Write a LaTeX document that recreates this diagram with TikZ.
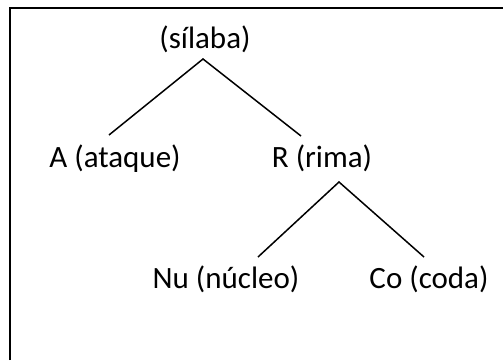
\documentclass[tikz,border=0pt]{standalone}
\usepackage{fontspec}
\setmainfont{Carlito}
\begin{document}
\begin{tikzpicture}[x=1pt,y=-1pt,
  lab/.style={font=\fontsize{31}{37}\selectfont, inner sep=0pt, anchor=base},
  edge/.style={line width=1.5pt},
  frame/.style={line width=2.2pt}]
\useasboundingbox (0,0) rectangle (503,360);
\draw[frame] (10,360) -- (10,8) -- (503,8);
\node[lab] (s) at (205,48) {(sílaba)};
\node[lab] (a) at (115,167) {A (ataque)};
\node[lab] (r) at (322,167) {R (rima)};
\node[lab] (n) at (226,288) {Nu (núcleo)};
\node[lab] (c) at (429,288) {Co (coda)};
\draw[edge] ([shift={(-6pt,32pt)}]a.base) -- ([shift={(-2pt,-11pt)}]s.base) -- ([shift={(-21pt,31pt)}]r.base);
\draw[edge] ([shift={(32pt,31pt)}]n.base) -- ([shift={(17pt,-15pt)}]r.base) -- ([shift={(-5pt,31pt)}]c.base);
\end{tikzpicture}
\end{document}
